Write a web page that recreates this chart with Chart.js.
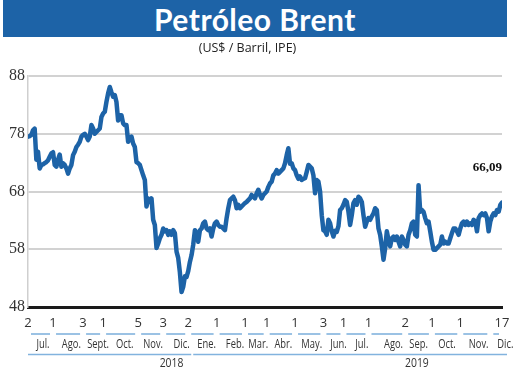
<!DOCTYPE html>
<html>
<head>
<meta charset="utf-8">
<script src="https://cdn.jsdelivr.net/npm/chart.js@4/dist/chart.umd.min.js"></script>
<style>
  html, body { margin: 0; padding: 0; background: #fff; }
  #wrap { position: relative; width: 520px; height: 368px; overflow: hidden; }
  #banner { position: absolute; left: 3px; top: 0; width: 504px; height: 37px; background: #1d63a7;
            color: #fff; font: bold 30px Lato, "Open Sans", sans-serif; line-height: 38px; text-align: center; z-index: 2; letter-spacing: 0.5px; }
  #sub { position: absolute; left: 0; top: 39px; width: 495px; text-align: center; color: #222;
         font: 12.5px "Open Sans", Lato, sans-serif; z-index: 2; }
  canvas { position: absolute; left: 0; top: 0; }
</style>
</head>
<body>
<div id="wrap">
  <div id="banner">Petróleo Brent</div>
  <div id="sub">(US$ / Barril, IPE)</div>
  <canvas id="c" width="520" height="368"></canvas>
</div>
<script>
// ---- data (daily Brent, Jul 2018 – Dec 2019) ----
const brent2018a = [77.5,77.6,77.8,78.6,78.9,73.5,74.9,72.0,72.6,72.7,72.9,73.1,73.4,74.0,74.6,74.8,72.6,72.3,73.5,74.4,
  72.3,72.9,72.6,72.0,71.1,72.0,72.6,74.3,74.9,75.7,76.1,76.6,77.5,77.8,78.0,77.5,76.9,77.5,79.5,78.9,
  78.0,78.3,78.6,78.9,80.9,81.5,81.8,83.5,85.0,86.1,85.2,84.4,84.7,83.5,80.3,81.2,81.2,79.8,79.5,79.5,
  76.6,77.2,77.5,76.3,75.7,73.1,72.9,72.6,71.7,70.8,70.0,65.4,66.8,66.2,66.8,63.1,62.2,58.2,59.0,59.9,
  60.5,61.6,61.1,61.3,60.5,61.1,60.5,61.3,60.8,57.6,56.5,54.0];
const brent2019a = [50.6,51.5,53.3,53.2,54.2,55.8,57.0,58.8,61.3,60.8,59.3,61.3,61.6,62.5,62.8,61.6,61.3,61.6,60.2,61.6,
  62.5,62.8,62.2,61.9,61.9,61.6,61.3,63.4,65.1,66.5,66.8,67.1,66.5,65.1,65.7,65.1,65.4,65.7,66.0,66.2,
  66.5,66.8,67.4,67.1,66.8,67.7,68.3,67.4,66.8,67.4,67.7,68.0,68.8,69.4,69.7,70.8,71.1,71.7,71.1,71.4,
  71.7,72.0,72.9,74.3,75.5,72.8,72.9,72.0,71.7,70.8,70.2,70.6,70.0,70.2,70.3,71.4,72.6,72.3,72.0,70.8,
  67.7,70.0,69.7,68.0,63.9,61.3,61.1,60.5,63.1,62.5,61.1,60.2,61.2,61.0,62.0,64.8,65.1,65.7,66.5,66.2,
  64.5,62.2];
const brent2019b = [63.9,66.0,66.5,65.7,67.1,66.8,66.2,63.9,61.9,62.8,63.4,63.1,63.7,64.2,65.1,64.8,61.6,60.5,58.5,56.2,
  58.2,61.1,59.6,58.5,59.9,60.2,59.6,60.2,59.3,58.5,60.2,59.6,58.8,58.5,60.5,61.3,62.5,62.8,60.5,60.2,
  69.1,64.5,64.8,64.5,63.4,62.5,62.8,61.1,59.3,57.9,57.9,58.2,58.5,58.8,60.2,59.0,59.3,59.0,59.0,59.9,
  60.8,61.6,61.6,61.1,60.5,61.6,62.5,62.8,62.2,62.8,62.2,62.5,62.2,63.1,62.8,61.1,63.4,63.9,64.2,63.9,
  64.2,63.4,61.1,62.8,63.7,64.2,63.9,64.8,64.5,65.7,66.09];
const lastLabel = "66,09";

// axis labels
const yTicks = [48, 58, 68, 78, 88];
const dayTickIdx    = [0, 15, 33, 45, 66, 81, 96, 113, 130, 143, 160, 177, 189, 204, 226, 242, 259, 277, 284];
const dayTickLabels = ['2','1','3','1','5','3','2','1','1','1','1','3','1','1','2','1','1','','17'];
const monthLabels = ['Jul.','Ago.','Sept.','Oct.','Nov.','Dic.','Ene.','Feb.','Mar.','Abr.','May.','Jun.','Jul.','Ago.','Sep.','Oct.','Nov.','Dic.'];
const monthPos    = [9, 26, 42, 58, 75, 92, 107, 124, 138, 153, 170, 186, 200, 219, 234, 251, 270, 286];
const yearLabels = ['2018', '2019'];
const yearPos    = [86, 233];
const yearStartIdx = [0, 96];
const yearEndIdx   = [96, 287];

const values = brent2018a.concat(brent2019a, brent2019b);
const points = values.map((v, i) => ({ x: i, y: v }));

const BLUE = '#1d63a7';
const UNDER = '#82b3de';
const narrow = '"Open Sans", Lato, sans-serif';

function condensedText(ctx, text, x, y, sx) {
  ctx.save();
  ctx.translate(x, y);
  ctx.scale(sx, 1);
  ctx.fillText(text, 0, 0);
  ctx.restore();
}

const decor = {
  id: 'decor',
  afterDraw(chart) {
    const ctx = chart.ctx, xs = chart.scales.x;
    const px = v => xs.getPixelForValue(v);
    ctx.save();
    // underline row 1 (month segments)
    ctx.strokeStyle = UNDER; ctx.lineWidth = 1.6;
    for (let i = 0; i < dayTickIdx.length - 1; i++) {
      ctx.beginPath();
      ctx.moveTo(px(dayTickIdx[i]) + 3, 334);
      ctx.lineTo(px(dayTickIdx[i + 1]) - 3, 334);
      ctx.stroke();
    }
    // month labels
    ctx.fillStyle = '#333'; ctx.font = '13px ' + narrow;
    ctx.textAlign = 'center'; ctx.textBaseline = 'middle';
    monthLabels.forEach((m, i) => condensedText(ctx, m, px(monthPos[i]), 344.5, 0.72));
    // underline row 2 (years)
    for (let i = 0; i < yearLabels.length; i++) {
      ctx.beginPath();
      ctx.moveTo(px(yearStartIdx[i]) + (i ? 5 : 0), 354.5);
      ctx.lineTo(px(yearEndIdx[i]) + (i ? 0 : 3), 354.5);
      ctx.stroke();
    }
    yearLabels.forEach((y, i) => condensedText(ctx, y, px(yearPos[i]), 363, 0.8));
    // last value label
    const meta = chart.getDatasetMeta(0);
    const last = meta.data[meta.data.length - 1];
    ctx.font = 'bold 13px "Liberation Serif", serif';
    ctx.fillStyle = '#111'; ctx.textAlign = 'right';
    ctx.fillText(lastLabel, last.x, last.y - 35);
    ctx.restore();
  }
};

new Chart(document.getElementById('c'), {
  type: 'line',
  data: {
    datasets: [{
      data: points,
      borderColor: BLUE,
      borderWidth: 4.5,
      pointRadius: 0,
      tension: 0,
      borderJoinStyle: 'round',
      borderCapStyle: 'round'
    }]
  },
  options: {
    responsive: false,
    animation: false,
    events: [],
    layout: { padding: { top: 76, right: 18, left: 0, bottom: 0 } },
    plugins: { legend: { display: false }, tooltip: { enabled: false }, title: { display: false } },
    scales: {
      x: {
        type: 'linear',
        min: 0, max: values.length - 1,
        afterBuildTicks: s => { s.ticks = dayTickIdx.map(v => ({ value: v })); },
        afterFit: s => { s.height = 61; },
        grid: { display: false, drawTicks: false },
        border: { display: true, color: '#1a1a1a', width: 3 },
        ticks: {
          autoSkip: false, maxRotation: 0, padding: 8,
          color: '#333', font: { size: 13, family: narrow },
          callback: (v, i) => dayTickLabels[i]
        }
      },
      y: {
        min: yTicks[0], max: yTicks[yTicks.length - 1],
        afterBuildTicks: s => { s.ticks = yTicks.map(v => ({ value: v })); },
        afterFit: s => { s.width = 28; },
        grid: { color: '#d2d2d2', lineWidth: 2, drawTicks: false },
        border: { display: true, color: '#cfcfcf', width: 1.5 },
        ticks: { padding: 3, color: '#333', font: { size: 16, family: '"Liberation Serif", serif' } }
      }
    }
  },
  plugins: [decor]
});
</script>
</body>
</html>
